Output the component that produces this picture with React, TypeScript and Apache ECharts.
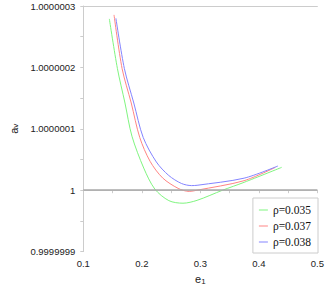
import React, { useEffect, useRef } from "react";
import * as echarts from "echarts";

// x: e1 ; y: (a_v - 1) in units of 1e-7
const xTicks = [0.1, 0.2, 0.3, 0.4, 0.5];
const yTickLabels = ["0.9999999", "1", "1.0000001", "1.0000002", "1.0000003"];
const seriesNames = ["\u03c1=0.035", "\u03c1=0.037", "\u03c1=0.038"];
const seriesColors = ["#7ff57f", "#ff8484", "#8484ff"];

const rho035: [number, number][] = [
  [0.1445, 2.79], [0.1583, 1.98], [0.1712, 1.42], [0.1831, 0.88],
  [0.2033, 0.36], [0.2221, 0.02], [0.2462, -0.17], [0.2703, -0.212], [0.2944, -0.165],
  [0.3380, 0.0], [0.3747, 0.128], [0.4390, 0.372],
];
const rho037: [number, number][] = [
  [0.1525, 2.855], [0.1663, 1.98], [0.1819, 1.42], [0.1964, 0.86],
  [0.2141, 0.47], [0.2355, 0.2], [0.2620, 0.03], [0.2810, -0.02], [0.2944, 0.0],
  [0.3747, 0.155], [0.4282, 0.372],
];
const rho038: [number, number][] = [
  [0.1557, 2.80], [0.1702, 1.98], [0.1863, 1.42], [0.2023, 0.86],
  [0.2248, 0.46], [0.2460, 0.24], [0.2676, 0.11], [0.2850, 0.075], [0.2944, 0.08],
  [0.3747, 0.196], [0.4325, 0.394],
];
const seriesData = [rho035, rho037, rho038];

export default function App() {
  const ref = useRef<HTMLDivElement>(null);
  useEffect(() => {
    if (!ref.current) return;
    const chart = echarts.init(ref.current, null, { renderer: "svg" });
    const axisCommon = {
      axisLine: { show: true, lineStyle: { color: "#cccccc", width: 1 } },
      axisTick: { show: true, inside: false, length: 3, lineStyle: { color: "#cccccc" } },
      minorTick: { show: true, splitNumber: 2, length: 3, lineStyle: { color: "#cccccc" } },
      splitLine: { show: false },
    };
    const serif = "'Liberation Serif', 'DejaVu Serif', serif";
    chart.setOption({
      animation: false,
      backgroundColor: "#ffffff",
      grid: { left: 69, right: 9, top: 6, bottom: 33, containLabel: false },
      legend: {
        orient: "vertical",
        right: 9,
        bottom: 37,
        backgroundColor: "#ffffff",
        borderColor: "#cccccc",
        borderWidth: 1,
        padding: [6, 7, 5, 6],
        itemWidth: 9,
        itemHeight: 1,
        itemGap: 4,
        icon: "rect",
        data: seriesNames,
        textStyle: { fontFamily: serif, fontSize: 11.5, color: "#111", lineHeight: 12 },
      },
      xAxis: [
        {
          type: "value",
          min: 0.1,
          max: 0.5,
          interval: 0.1,
          name: "{b|e}{s|1}",
          nameLocation: "middle",
          nameGap: 20,
          nameTextStyle: {
            rich: {
              b: { fontFamily: "Liberation Sans", fontSize: 11, color: "#222" },
              s: { fontFamily: "Liberation Sans", fontSize: 8, color: "#222", verticalAlign: "bottom", padding: [4, 0, 0, 0] },
            },
          },
          ...axisCommon,
          axisLabel: {
            fontFamily: "Liberation Sans",
            fontSize: 9.5,
            color: "#222",
            margin: 7,
            formatter: (v: number) => {
              const t = xTicks.find((x) => Math.abs(x - v) < 1e-9);
              return t === undefined ? "" : String(t);
            },
          },
        },
        {
          type: "value",
          position: "top",
          min: 0.1,
          max: 0.5,
          axisLine: { show: true, lineStyle: { color: "#cccccc" } },
          axisTick: { show: false },
          axisLabel: { show: false },
          splitLine: { show: false },
        },
      ],
      yAxis: {
        type: "value",
        min: -1,
        max: 3,
        interval: 1,
        name: "{b|a}{s|v}",
        nameLocation: "middle",
        nameGap: 61,
        nameTextStyle: {
          rich: {
            b: { fontFamily: "Liberation Sans", fontSize: 11, color: "#222" },
            s: { fontFamily: "Liberation Sans", fontSize: 8, color: "#222", verticalAlign: "bottom", padding: [4, 0, 0, 0] },
          },
        },
        ...axisCommon,
        axisLabel: {
          fontFamily: "Liberation Sans",
          fontSize: 9.5,
          color: "#222",
          margin: 8,
          formatter: (v: number) => {
            const i = Math.round(v) + 1;
            return yTickLabels[i] ?? "";
          },
        },
      },
      series: seriesNames.map((name, i) => ({
        name,
        type: "line",
        data: seriesData[i],
        smooth: 0.3,
        showSymbol: false,
        symbol: "none",
        color: seriesColors[i],
        lineStyle: { color: seriesColors[i], width: 1 },
        z: 3,
        markLine:
          i === 0
            ? {
                silent: true,
                symbol: "none",
                label: { show: false },
                lineStyle: { color: "#a8a8a8", width: 1.5, type: "solid" },
                data: [{ yAxis: 0 }],
              }
            : undefined,
      })),
    });
    return () => chart.dispose();
  }, []);
  return <div ref={ref} style={{ width: 327, height: 290, position: "absolute", left: 0, top: 0 }} />;
}
